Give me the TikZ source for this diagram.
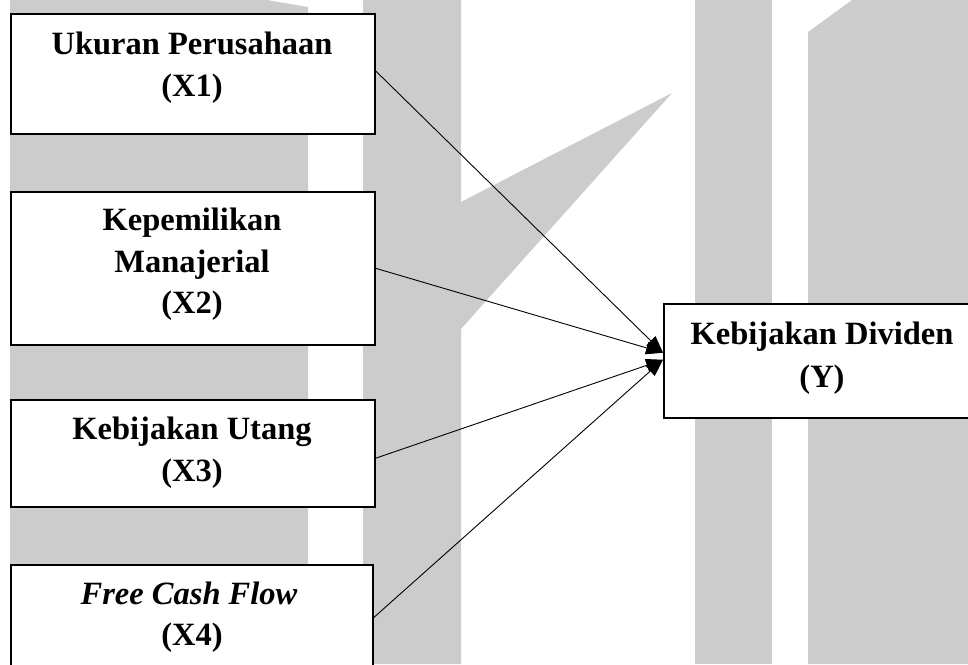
\documentclass[tikz,border=0pt]{standalone}
\usepackage{fontspec}
\setmainfont{Liberation Serif}
\usetikzlibrary{arrows.meta}
\definecolor{wm}{RGB}{204,204,204}
\begin{document}
\begin{tikzpicture}[x=1pt,y=-1pt,
  box/.style={draw=black, line width=1.5pt, fill=white, inner sep=0pt, anchor=north west},
  lbl/.style={anchor=base, inner sep=0pt, font=\fontsize{32.5}{38}\selectfont\bfseries},
  link/.style={line width=0.9pt, -{Triangle[length=17pt,width=13pt]}},
  wmark/.style={fill=wm, draw=none}]
\useasboundingbox (0,0) rectangle (968,664);
% watermark
\fill[wmark] (10,0) -- (267,0) -- (308,7) -- (308,664) -- (10,664) -- cycle;
\fill[wmark] (363,0) -- (461,0) -- (461,202) -- (672,93) -- (461,329) -- (461,664) -- (363,664) -- cycle;
\fill[wmark] (695,0) rectangle (772,664);
\fill[wmark] (808,32) -- (852,0) -- (968,0) -- (968,664) -- (808,664) -- cycle;
% boxes
\node[box, minimum width=364pt, minimum height=120pt] (x1) at (10,13) {};
\node[box, minimum width=364pt, minimum height=153pt] (x2) at (10,191) {};
\node[box, minimum width=364pt, minimum height=107pt] (x3) at (10,399) {};
\node[box, minimum width=362pt, minimum height=106pt] (x4) at (10,564) {};
\node[box, minimum width=322pt, minimum height=114pt] (y) at (663,303) {};
% connectors
\draw[link] ([yshift=3pt]x1.east) -- ([yshift=8pt]y.west);
\draw[link] (x2.east) -- ([yshift=8pt]y.west);
\draw[link] ([yshift=-5pt]x3.east) -- ([yshift=1pt]y.west);
\draw[link] (x4.east) -- ([yshift=1pt]y.west);
% texts
\node[lbl] (t1a) at (192,54) {Ukuran Perusahaan};
\node[lbl] (t1b) at (192,96) {(X1)};
\node[lbl] (t2a) at (192,230) {Kepemilikan};
\node[lbl] (t2b) at (192,272) {Manajerial};
\node[lbl] (t2c) at (192,313) {(X2)};
\node[lbl] (t3a) at (192,439) {Kebijakan Utang};
\node[lbl] (t3b) at (192,481) {(X3)};
\node[lbl, font=\fontsize{32.5}{38}\selectfont\bfseries\itshape] (t4a) at (189,604) {Free Cash Flow};
\node[lbl] (t4b) at (192,645) {(X4)};
\node[lbl] (tya) at (822,344) {Kebijakan Dividen};
\node[lbl] (tyb) at (822,387) {(Y)};
\end{tikzpicture}
\end{document}
